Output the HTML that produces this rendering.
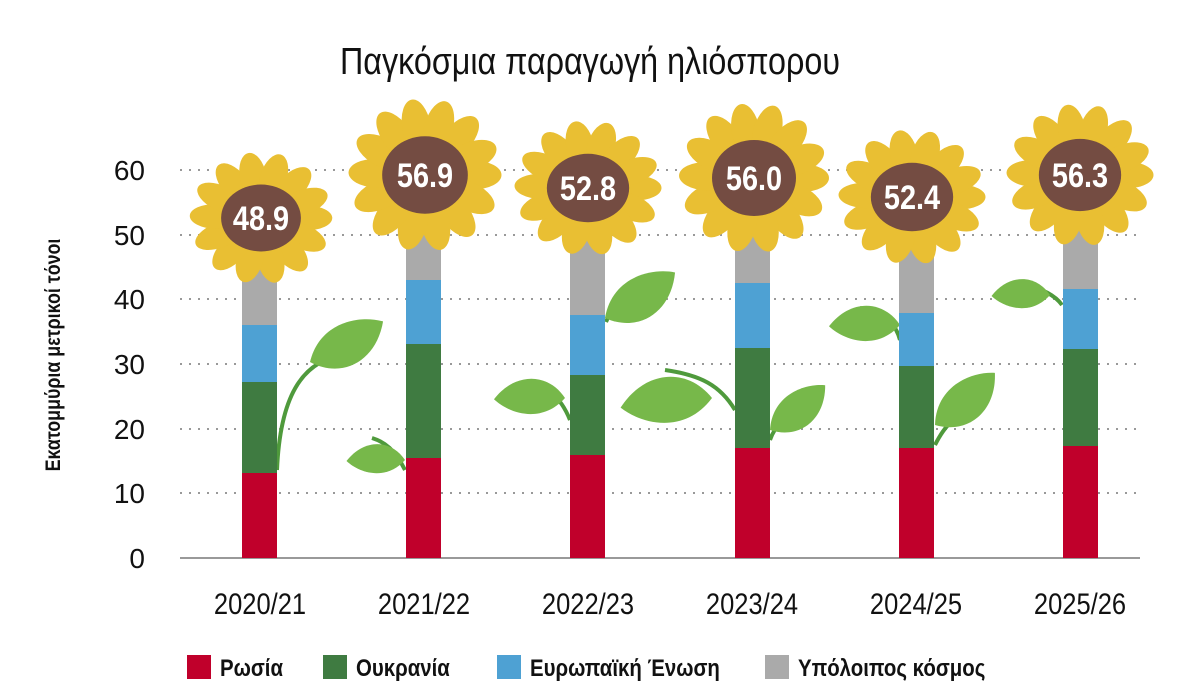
<!DOCTYPE html>
<html><head><meta charset="utf-8"><style>
body{margin:0;background:#fff;}
svg text{font-family:"Liberation Sans Narrow","Liberation Sans",sans-serif;}
</style></head><body>
<svg width="1181" height="693" viewBox="0 0 1181 693" xmlns="http://www.w3.org/2000/svg">
<defs>
<g id="fl">
<g fill="#e9bf33">
<ellipse cx="48" cy="0" rx="27" ry="14"/>
<ellipse cx="48" cy="0" rx="27" ry="14" transform="rotate(26)"/>
<ellipse cx="48" cy="0" rx="27" ry="14" transform="rotate(52)"/>
<ellipse cx="48" cy="0" rx="27" ry="14" transform="rotate(78)"/>
<ellipse cx="48" cy="0" rx="27" ry="14" transform="rotate(104)"/>
<ellipse cx="48" cy="0" rx="27" ry="14" transform="rotate(130)"/>
<ellipse cx="48" cy="0" rx="27" ry="14" transform="rotate(156)"/>
<ellipse cx="48" cy="0" rx="27" ry="14" transform="rotate(182)"/>
<ellipse cx="48" cy="0" rx="27" ry="14" transform="rotate(208)"/>
<ellipse cx="48" cy="0" rx="27" ry="14" transform="rotate(234)"/>
<ellipse cx="48" cy="0" rx="27" ry="14" transform="rotate(260)"/>
<ellipse cx="48" cy="0" rx="27" ry="14" transform="rotate(286)"/>
<ellipse cx="48" cy="0" rx="27" ry="14" transform="rotate(312)"/>
<ellipse cx="48" cy="0" rx="27" ry="14" transform="rotate(338)"/>
</g>
<ellipse cx="0" cy="0" rx="42" ry="38" fill="#744c42"/>
</g>
<path id="lf" d="M0,0 C15,-38 55,-40 78,-30 C66,8 30,22 0,0Z" fill="#77b84a"/>
</defs>
<text x="590" y="74" font-size="38" text-anchor="middle" fill="#111" transform="translate(590,0) scale(0.85,1) translate(-590,0)">Παγκόσμια παραγωγή ηλιόσπορου</text>
<g stroke="#999" stroke-width="2" stroke-dasharray="2 7">
<line x1="180" y1="170" x2="1140" y2="170"/>
<line x1="180" y1="235" x2="1140" y2="235"/>
<line x1="180" y1="299" x2="1140" y2="299"/>
<line x1="180" y1="364" x2="1140" y2="364"/>
<line x1="180" y1="429" x2="1140" y2="429"/>
<line x1="180" y1="493" x2="1140" y2="493"/>
</g>
<line x1="180" y1="558" x2="1140" y2="558" stroke="#999" stroke-width="2"/>
<g font-size="28" fill="#111" text-anchor="end">
<text x="145" y="180">60</text><text x="145" y="245">50</text><text x="145" y="309">40</text>
<text x="145" y="374">30</text><text x="145" y="439">20</text><text x="145" y="503">10</text><text x="145" y="568">0</text>
</g>
<text transform="translate(60,355) rotate(-90) scale(0.85,1)" font-size="21" font-weight="bold" text-anchor="middle" fill="#111">Εκατομμύρια μετρικοί τόνοι</text>
<g font-size="30" fill="#111" text-anchor="middle">
<text transform="translate(260,614) scale(0.85,1)">2020/21</text><text transform="translate(424,614) scale(0.85,1)">2021/22</text><text transform="translate(588,614) scale(0.85,1)">2022/23</text>
<text transform="translate(752,614) scale(0.85,1)">2023/24</text><text transform="translate(916,614) scale(0.85,1)">2024/25</text><text transform="translate(1080,614) scale(0.85,1)">2025/26</text>
</g>
<g fill="none" stroke="#4f9a3c" stroke-width="4">
<path d="M277,470 C280,400 300,360 345,355"/>
<path d="M405,470 C395,450 385,442 372,438"/>
<path d="M570,420 C560,395 545,385 525,382"/>
<path d="M606,322 C615,300 630,294 655,292"/>
<path d="M735,410 C720,385 700,375 665,370"/>
<path d="M770,440 C775,425 785,418 800,414"/>
<path d="M900,340 C895,320 880,312 860,308"/>
<path d="M935,445 C945,425 955,415 975,410"/>
<path d="M1062,305 C1055,295 1040,288 1022,284"/>
</g>
<use href="#lf" transform="translate(310,362) rotate(-8)"/>
<use href="#lf" transform="translate(405,460) rotate(200) scale(0.7)"/>
<use href="#lf" transform="translate(565,398) rotate(200) scale(0.85)"/>
<use href="#lf" transform="translate(605,318) rotate(-12) scale(1.0)"/>
<use href="#lf" transform="translate(712,398) rotate(195) scale(1.1)"/>
<use href="#lf" transform="translate(770,430) rotate(-18) scale(0.85)"/>
<use href="#lf" transform="translate(900,325) rotate(200) scale(0.85)"/>
<use href="#lf" transform="translate(935,425) rotate(-20) scale(0.95)"/>
<use href="#lf" transform="translate(1050,295) rotate(200) scale(0.7)"/>
<g>
<rect x="242" y="473" width="35" height="85" fill="#c0002b"/><rect x="242" y="382" width="35" height="91" fill="#3f7b41"/><rect x="242" y="325" width="35" height="57" fill="#4ea1d3"/><rect x="242" y="240" width="35" height="85" fill="#aaaaaa"/>
<rect x="406" y="458" width="35" height="100" fill="#c0002b"/><rect x="406" y="344" width="35" height="114" fill="#3f7b41"/><rect x="406" y="280" width="35" height="64" fill="#4ea1d3"/><rect x="406" y="200" width="35" height="80" fill="#aaaaaa"/>
<rect x="570" y="455" width="35" height="103" fill="#c0002b"/><rect x="570" y="375" width="35" height="80" fill="#3f7b41"/><rect x="570" y="315" width="35" height="60" fill="#4ea1d3"/><rect x="570" y="210" width="35" height="105" fill="#aaaaaa"/>
<rect x="735" y="448" width="35" height="110" fill="#c0002b"/><rect x="735" y="348" width="35" height="100" fill="#3f7b41"/><rect x="735" y="283" width="35" height="65" fill="#4ea1d3"/><rect x="735" y="200" width="35" height="83" fill="#aaaaaa"/>
<rect x="899" y="448" width="35" height="110" fill="#c0002b"/><rect x="899" y="366" width="35" height="82" fill="#3f7b41"/><rect x="899" y="313" width="35" height="53" fill="#4ea1d3"/><rect x="899" y="210" width="35" height="103" fill="#aaaaaa"/>
<rect x="1063" y="446" width="35" height="112" fill="#c0002b"/><rect x="1063" y="349" width="35" height="97" fill="#3f7b41"/><rect x="1063" y="289" width="35" height="60" fill="#4ea1d3"/><rect x="1063" y="200" width="35" height="89" fill="#aaaaaa"/>
</g>
<use href="#fl" transform="translate(261,218) scale(0.95,0.88)"/>
<use href="#fl" transform="translate(425,175) scale(1.02)"/>
<use href="#fl" transform="translate(588,188) scale(0.98,0.9)"/>
<use href="#fl" transform="translate(754,178) scale(1.0)"/>
<use href="#fl" transform="translate(912,197) scale(0.98,0.9)"/>
<use href="#fl" transform="translate(1080,175) scale(0.98,0.95)"/>
<g font-size="34" font-weight="bold" fill="#fff" text-anchor="middle">
<text transform="translate(261,230) scale(0.85,1)">48.9</text><text transform="translate(425,187) scale(0.85,1)">56.9</text><text transform="translate(588,200) scale(0.85,1)">52.8</text>
<text transform="translate(754,190) scale(0.85,1)">56.0</text><text transform="translate(912,209) scale(0.85,1)">52.4</text><text transform="translate(1080,187) scale(0.85,1)">56.3</text>
</g>
<g font-size="24" font-weight="bold" fill="#111">
<rect x="187" y="655" width="24" height="24" fill="#c0002b"/><text transform="translate(220,676) scale(0.85,1)">Ρωσία</text>
<rect x="323" y="655" width="24" height="24" fill="#3f7b41"/><text transform="translate(356,676) scale(0.85,1)">Ουκρανία</text>
<rect x="497" y="655" width="24" height="24" fill="#4ea1d3"/><text transform="translate(530,676) scale(0.85,1)">Ευρωπαϊκή Ένωση</text>
<rect x="765" y="655" width="24" height="24" fill="#aaaaaa"/><text transform="translate(798,676) scale(0.85,1)">Υπόλοιπος κόσμος</text>
</g>
</svg>
</body></html>
